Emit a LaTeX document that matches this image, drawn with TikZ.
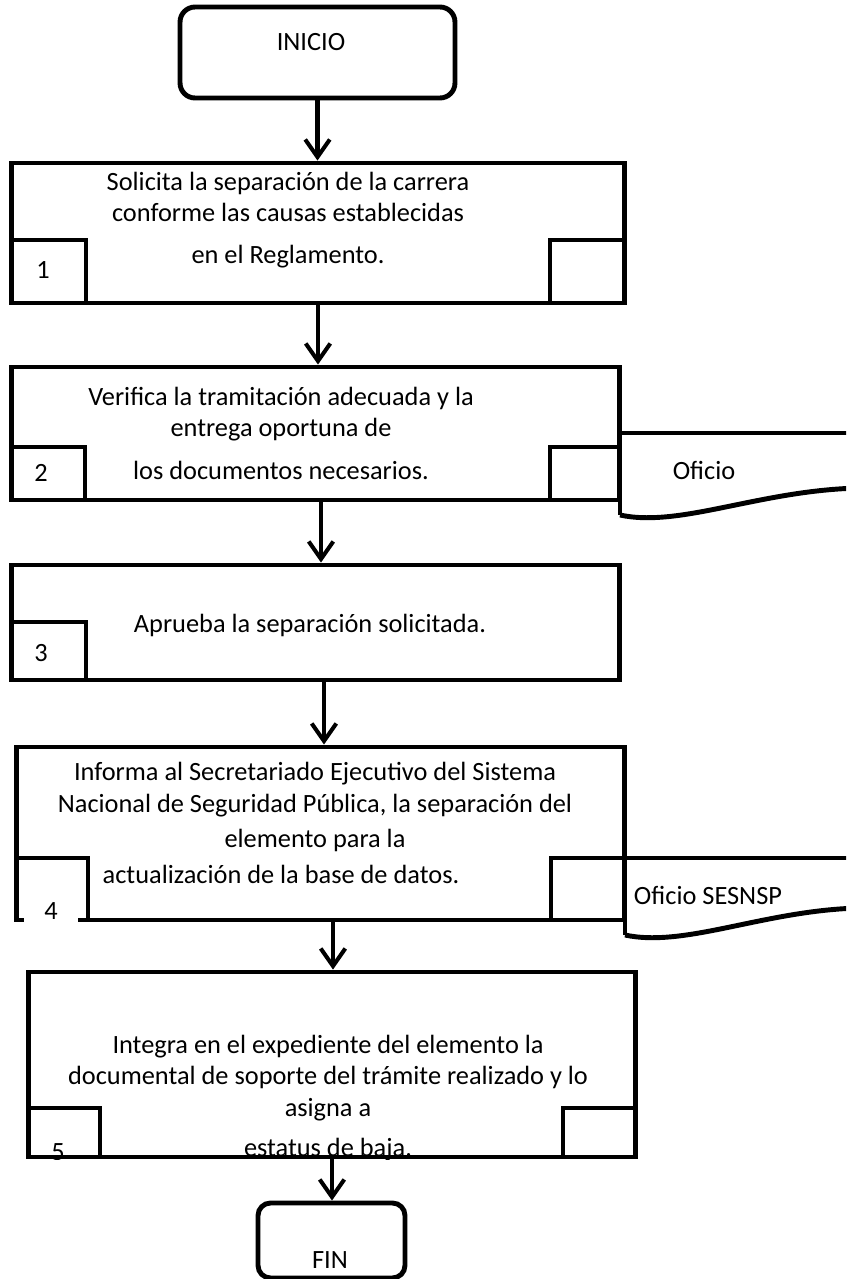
\documentclass[tikz,border=0pt]{standalone}
\usepackage{fontspec}
\setmainfont{Carlito}
\usetikzlibrary{arrows.meta}

\begin{document}
\begin{tikzpicture}[
    x=0.02cm, y=-0.02cm,
    font=\fontsize{15}{18}\selectfont,
    terminal/.style={draw, line width=2.8pt, rounded corners=0.3cm},
    process/.style={draw, line width=2.8pt, inner sep=0pt},
    numbox/.style={draw, line width=2.8pt, inner sep=0pt},
    txt/.style={align=center, inner sep=0pt},
    flow/.style={-{Straight Barb[length=10pt, width=14pt]}, line width=2.3pt},
    docline/.style={line width=2.8pt}
]
\useasboundingbox (0,0) rectangle (846,1279);
\clip (0,0) rectangle (846,1279);

% inicio
\node[terminal, minimum width=5.5cm, minimum height=1.82cm] (inicio) at (317.5,52.5) {};
\node[txt] (tinicio) at (311,42) {INICIO};

% paso 1
\node[process, minimum width=12.28cm, minimum height=2.8cm] (p1) at (318,233) {};
\node[txt] (t1) at (288,220) {Solicita la separación de la carrera\\conforme las causas establecidas\\[5.7pt]en el Reglamento.};
\node[numbox, minimum width=1.5cm, minimum height=1.26cm] (n1) at (48.5,271.5) {};
\node[txt] (tn1) at (43,270) {1};
\node[numbox, minimum width=1.5cm, minimum height=1.26cm] (r1) at (587.5,271.5) {};

% paso 2
\node[process, minimum width=12.18cm, minimum height=2.66cm] (p2) at (315.5,433.5) {};
\node[txt] (t2) at (281,433.5) {Verifica la tramitación adecuada y la\\entrega oportuna de\\[6.5pt]los documentos necesarios.};
\node[numbox, minimum width=1.48cm, minimum height=1.06cm] (n2) at (48,473.5) {};
\node[txt] (tn2) at (41,473) {2};
\node[numbox, minimum width=1.4cm, minimum height=1.06cm] (r2) at (585,473.5) {};
\draw[docline] (620,515) -- (620,433) -- (860,433);
\draw[docline] (620,515) .. controls (680,528) and (760,490) .. (860,488);
\node[txt] (oficio) at (704,470) {Oficio};

% paso 3
\node[process, minimum width=12.18cm, minimum height=2.3cm] (p3) at (315.5,622.5) {};
\node[txt] (t3) at (310,625) {Aprueba la separación solicitada.};
\node[numbox, minimum width=1.5cm, minimum height=1.16cm] (n3) at (48.5,651) {};
\node[txt] (tn3) at (41,653) {3};

% paso 4
\node[process, minimum width=12.18cm, minimum height=3.46cm] (p4) at (320.5,833.5) {};
\node[txt] (t4) at (315,823) {Informa al Secretariado Ejecutivo del Sistema\\Nacional de Seguridad Pública, la separación del\\[2pt]elemento para la\\[2.5pt]actualización de la base de datos.\hspace*{1.36cm}};
\node[numbox, minimum width=1.44cm, minimum height=1.24cm] (n4) at (52,889) {};
\node[fill=white, inner sep=0pt, minimum width=1.08cm, minimum height=0.5cm] (tn4) at (51,911) {4};
\node[numbox, minimum width=1.48cm, minimum height=1.24cm] (r4) at (588,889) {};
\draw[docline] (625,935) -- (625,858) -- (860,858);
\draw[docline] (625,935) .. controls (685,948) and (765,910) .. (860,908);
\node[txt] (sesnsp) at (708,895) {Oficio SESNSP};

% paso 5
\node[process, minimum width=12.16cm, minimum height=3.7cm] (p5) at (332,1064.5) {};
\begin{scope}
    \clip (p5.north west) rectangle (p5.south east);
    \node[txt] (t5) at (328,1098) {Integra en el expediente del elemento la\\documental de soporte del trámite realizado y lo\\asigna a\\[5pt]estatus de baja.};
    \node[txt] (tn5) at (58,1152) {5};
\end{scope}
\node[numbox, minimum width=1.44cm, minimum height=0.98cm] (n5) at (64,1132.5) {};
\node[numbox, minimum width=1.46cm, minimum height=0.98cm] (r5) at (599.5,1132.5) {};

% fin
\node[terminal, rounded corners=0.25cm, minimum width=2.94cm, minimum height=1.5cm] (fin) at (331.5,1240.5) {};
\node[txt] (tfin) at (330,1260) {FIN};

% flechas
\draw[flow] (inicio.south) -- (inicio.south |- p1.north);
\draw[flow] (p1.south) -- (p1.south |- p2.north);
\draw[flow] ([xshift=0.11cm]p2.south) -- ([xshift=0.11cm]p2.south |- p3.north);
\draw[flow] ([xshift=0.17cm]p3.south) -- ([xshift=0.17cm]p3.south |- p4.north);
\draw[flow] ([xshift=0.25cm]p4.south) -- ([xshift=0.25cm]p4.south |- p5.north);
\draw[flow] (p5.south) -- (p5.south |- fin.north);

\end{tikzpicture}
\end{document}
